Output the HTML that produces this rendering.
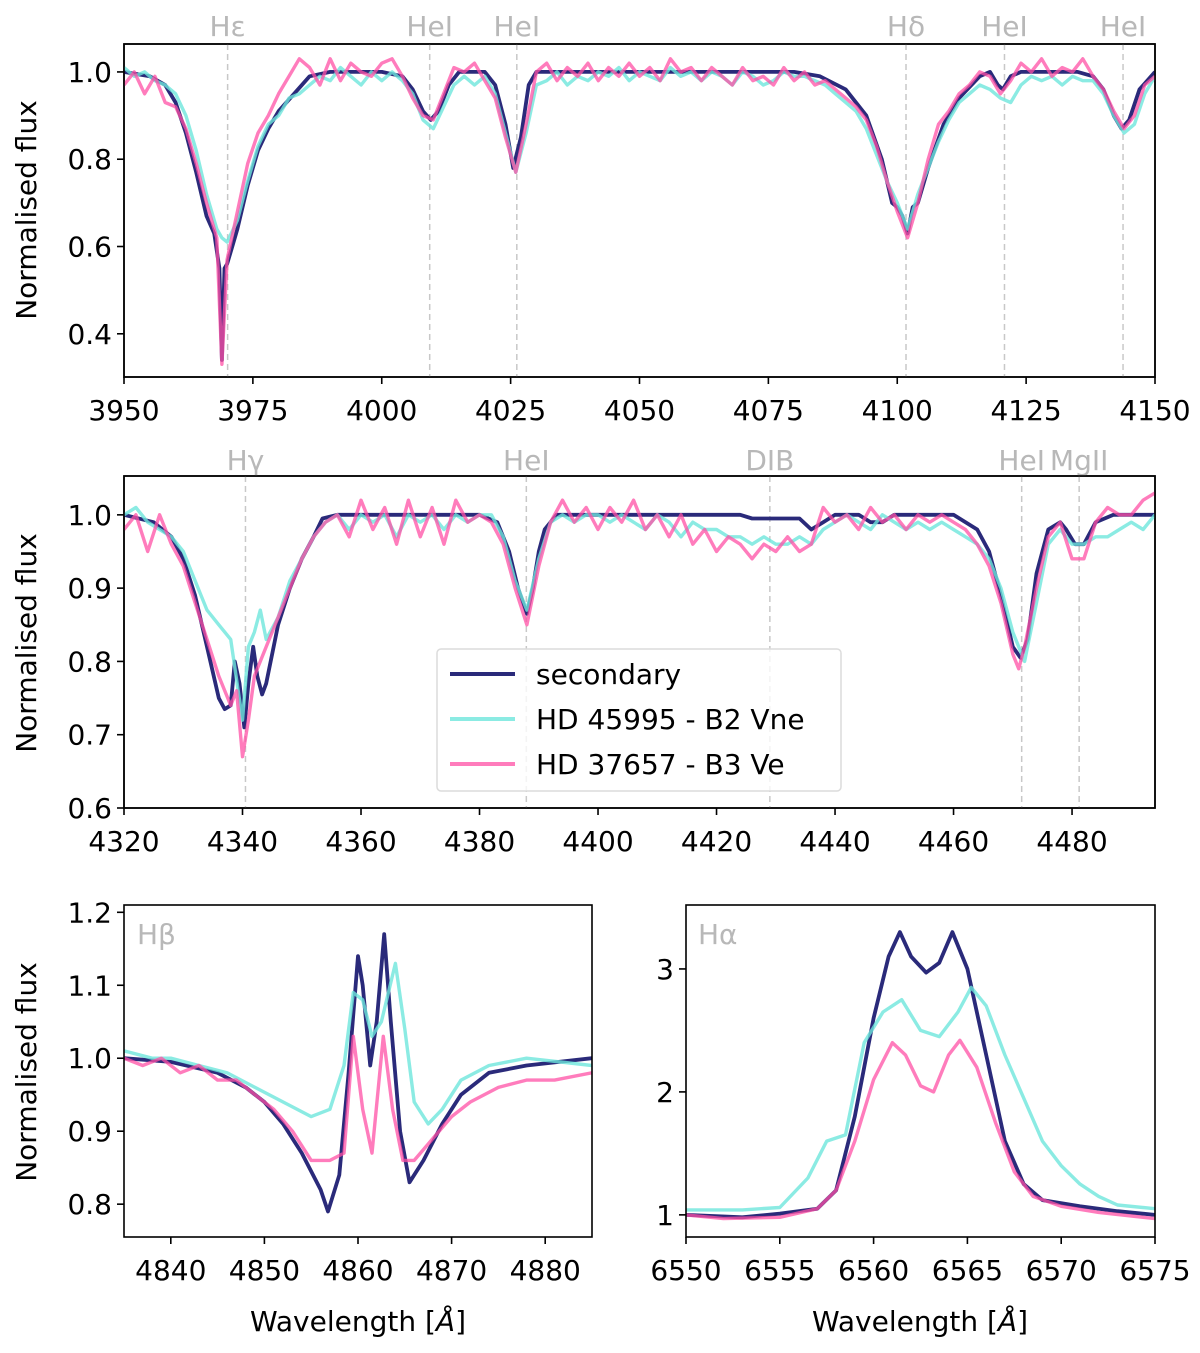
<!DOCTYPE html>
<html><head><meta charset="utf-8"><style>
html,body{margin:0;padding:0;background:#fff;}
svg{display:block;font-family:"DejaVu Sans","Liberation Sans",sans-serif;}
</style></head><body>
<svg id="fig" width="1200" height="1353" viewBox="0 0 1200 1353" xmlns="http://www.w3.org/2000/svg"></svg>
<script>
// ---------- DATA ----------
const sec1 = [[3950,1.0],[3955,0.99],[3958,0.97],[3960,0.93],[3962,0.86],[3964,0.77],[3966,0.67],[3967.5,0.63],[3968.5,0.55],[3969,0.34],[3969.5,0.55],[3970,0.56],[3971,0.6],[3972,0.64],[3974,0.74],[3976,0.82],[3978,0.87],[3980,0.91],[3983,0.95],[3986,0.99],[3990,1.0],[4000,1.0],[4004,0.99],[4006,0.96],[4008,0.91],[4009.5,0.89],[4011,0.91],[4013,0.97],[4015,1.0],[4020,1.0],[4022,0.97],[4024,0.88],[4025.5,0.78],[4027,0.85],[4028.5,0.97],[4030,1.0],[4080,1.0],[4085,0.99],[4090,0.96],[4094,0.9],[4097,0.8],[4099,0.70],[4100,0.69],[4101,0.67],[4102,0.63],[4103,0.69],[4104,0.70],[4106,0.78],[4109,0.88],[4112,0.94],[4116,0.99],[4118,1.0],[4119.5,0.97],[4120.5,0.96],[4122,0.99],[4124,1.0],[4135,1.0],[4138,0.99],[4140,0.96],[4142,0.90],[4143.5,0.87],[4145,0.89],[4147,0.96],[4150,1.0]];
const cyan1 = [[3950,1.01],[3952,0.99],[3954,1.00],[3956,0.98],[3958,0.97],[3960,0.95],[3962,0.90],[3964,0.82],[3966,0.72],[3968,0.64],[3969,0.62],[3970,0.61],[3972,0.66],[3974,0.75],[3976,0.83],[3978,0.88],[3980,0.90],[3982,0.94],[3984,0.95],[3986,0.97],[3988,0.99],[3990,0.98],[3992,1.01],[3994,0.99],[3996,0.97],[3998,1.00],[4000,0.98],[4002,1.00],[4004,0.98],[4006,0.95],[4008,0.89],[4010,0.87],[4012,0.92],[4014,0.97],[4016,0.99],[4018,0.97],[4020,0.99],[4022,0.95],[4024,0.86],[4026,0.77],[4028,0.86],[4030,0.97],[4032,0.98],[4034,1.00],[4036,0.97],[4038,0.99],[4040,0.98],[4042,1.00],[4044,0.99],[4046,1.01],[4048,0.98],[4050,1.00],[4052,0.99],[4054,0.98],[4056,1.01],[4058,0.99],[4060,1.00],[4062,0.98],[4064,1.00],[4066,0.99],[4068,0.97],[4070,1.00],[4072,0.99],[4074,0.97],[4076,0.98],[4078,1.00],[4080,0.99],[4082,0.99],[4084,0.98],[4086,0.97],[4088,0.95],[4090,0.93],[4092,0.91],[4094,0.87],[4096,0.81],[4098,0.75],[4100,0.70],[4102,0.64],[4104,0.72],[4106,0.78],[4108,0.84],[4110,0.89],[4112,0.93],[4114,0.95],[4116,0.97],[4118,0.96],[4120,0.94],[4122,0.93],[4124,0.97],[4126,0.99],[4128,0.98],[4130,0.99],[4132,0.97],[4134,0.99],[4136,0.98],[4138,0.98],[4140,0.95],[4142,0.90],[4144,0.86],[4146,0.88],[4148,0.95],[4150,0.99]];
const pink1 = [[3950,0.97],[3952,1.00],[3954,0.95],[3956,0.99],[3958,0.93],[3960,0.92],[3962,0.87],[3964,0.79],[3966,0.70],[3968,0.62],[3969,0.33],[3970,0.57],[3972,0.68],[3974,0.79],[3976,0.86],[3978,0.90],[3980,0.95],[3982,0.99],[3984,1.03],[3986,1.01],[3988,0.97],[3990,1.03],[3992,0.98],[3994,1.02],[3996,1.00],[3998,0.99],[4000,1.02],[4002,1.03],[4004,0.99],[4006,0.94],[4008,0.90],[4010,0.89],[4012,0.95],[4014,1.01],[4016,1.00],[4018,1.02],[4020,0.98],[4022,0.94],[4024,0.85],[4026,0.77],[4028,0.88],[4030,1.00],[4032,1.02],[4034,0.98],[4036,1.01],[4038,0.99],[4040,1.02],[4042,0.98],[4044,1.01],[4046,0.99],[4048,1.02],[4050,0.99],[4052,1.01],[4054,0.98],[4056,1.03],[4058,1.00],[4060,1.01],[4062,0.98],[4064,1.01],[4066,0.99],[4068,0.97],[4070,1.01],[4072,0.98],[4074,0.99],[4076,0.97],[4078,1.01],[4080,0.98],[4082,1.00],[4084,0.97],[4086,0.98],[4088,0.96],[4090,0.94],[4092,0.92],[4094,0.89],[4096,0.83],[4098,0.75],[4100,0.68],[4102,0.62],[4104,0.70],[4106,0.80],[4108,0.88],[4110,0.91],[4112,0.95],[4114,0.97],[4116,1.00],[4118,0.99],[4120,0.95],[4122,0.98],[4124,1.02],[4126,1.00],[4128,1.03],[4130,0.99],[4132,1.01],[4134,1.00],[4136,1.03],[4138,0.99],[4140,0.96],[4142,0.91],[4144,0.87],[4146,0.90],[4148,0.97],[4150,0.99]];

const sec2 = [[4320,1.0],[4325,0.99],[4328,0.97],[4330,0.94],[4332,0.89],[4334,0.82],[4336,0.75],[4337,0.735],[4338,0.74],[4338.7,0.80],[4339.5,0.77],[4340.3,0.71],[4341,0.77],[4341.8,0.82],[4342.5,0.78],[4343.3,0.755],[4344,0.77],[4346,0.85],[4348,0.90],[4350,0.94],[4352,0.97],[4353.5,0.995],[4356,1.0],[4380,1.0],[4383,0.99],[4385,0.95],[4386.5,0.90],[4388,0.865],[4389,0.90],[4390,0.95],[4391,0.98],[4393,1.0],[4420,1.0],[4424,1.0],[4426,0.995],[4434,0.995],[4436,0.98],[4438,0.99],[4440,1.0],[4444,1.0],[4446,0.99],[4448,0.99],[4450,1.0],[4460,1.0],[4464,0.98],[4466,0.95],[4468,0.89],[4470,0.82],[4471.3,0.805],[4472.5,0.83],[4474,0.92],[4476,0.98],[4478,0.99],[4479,0.98],[4480.5,0.96],[4482,0.96],[4484,0.99],[4487,1.0],[4494,1.0]];
const cyan2 = [[4320,1.00],[4322,1.01],[4324,0.99],[4326,0.98],[4328,0.97],[4330,0.95],[4332,0.91],[4334,0.87],[4336,0.85],[4338,0.83],[4340,0.72],[4341,0.82],[4342,0.84],[4343,0.87],[4344,0.83],[4346,0.86],[4348,0.91],[4350,0.94],[4352,0.97],[4354,0.99],[4356,1.00],[4358,0.98],[4360,1.00],[4362,0.99],[4364,1.00],[4366,0.97],[4368,1.00],[4370,0.99],[4372,1.00],[4374,0.98],[4376,1.00],[4378,0.99],[4380,1.00],[4382,1.00],[4384,0.97],[4386,0.91],[4388,0.87],[4390,0.94],[4392,0.99],[4394,1.00],[4396,0.99],[4398,1.00],[4400,1.00],[4402,0.99],[4404,1.00],[4406,0.99],[4408,0.98],[4410,1.00],[4412,0.99],[4414,0.97],[4416,0.99],[4418,0.98],[4420,0.98],[4422,0.97],[4424,0.97],[4426,0.96],[4428,0.97],[4430,0.96],[4432,0.96],[4434,0.97],[4436,0.96],[4438,0.98],[4440,0.99],[4442,1.00],[4444,0.99],[4446,0.98],[4448,1.00],[4450,0.99],[4452,0.98],[4454,0.99],[4456,0.98],[4458,0.99],[4460,0.98],[4462,0.97],[4464,0.96],[4466,0.94],[4468,0.90],[4470,0.84],[4472,0.80],[4474,0.88],[4476,0.96],[4478,0.98],[4480,0.96],[4482,0.96],[4484,0.97],[4486,0.97],[4488,0.98],[4490,0.99],[4492,0.98],[4494,1.00]];
const pink2 = [[4320,0.98],[4322,1.00],[4324,0.95],[4326,1.00],[4328,0.96],[4330,0.93],[4332,0.88],[4334,0.83],[4336,0.78],[4338,0.74],[4339,0.76],[4340,0.67],[4341,0.72],[4342,0.78],[4343,0.80],[4344,0.82],[4346,0.86],[4348,0.90],[4350,0.94],[4352,0.97],[4354,0.99],[4356,1.00],[4358,0.97],[4360,1.02],[4362,0.98],[4364,1.01],[4366,0.96],[4368,1.02],[4370,0.97],[4372,1.01],[4374,0.96],[4376,1.02],[4378,0.99],[4380,1.00],[4382,0.99],[4384,0.96],[4386,0.90],[4388,0.85],[4390,0.93],[4392,0.99],[4394,1.02],[4396,0.99],[4398,1.01],[4400,0.98],[4402,1.01],[4404,0.99],[4406,1.02],[4408,0.98],[4410,1.00],[4412,0.97],[4414,1.00],[4416,0.96],[4418,0.98],[4420,0.95],[4422,0.97],[4424,0.96],[4426,0.94],[4428,0.96],[4430,0.95],[4432,0.97],[4434,0.95],[4436,0.96],[4438,1.01],[4440,0.99],[4442,1.00],[4444,0.98],[4446,1.01],[4448,0.99],[4450,1.00],[4452,0.98],[4454,1.00],[4456,0.99],[4458,1.00],[4460,0.99],[4462,0.98],[4464,0.96],[4466,0.93],[4468,0.88],[4470,0.81],[4471,0.79],[4472,0.82],[4474,0.90],[4476,0.97],[4478,0.99],[4480,0.94],[4482,0.94],[4484,0.99],[4486,1.01],[4488,1.00],[4490,1.00],[4492,1.02],[4494,1.03]];

const sec3 = [[4835,1.0],[4840,0.995],[4845,0.98],[4848,0.96],[4850,0.94],[4852,0.91],[4854,0.87],[4856,0.82],[4856.8,0.79],[4858,0.84],[4859,0.98],[4860,1.14],[4860.5,1.10],[4861.3,0.99],[4862,1.05],[4862.8,1.17],[4863.5,1.05],[4864.5,0.90],[4865.5,0.83],[4867,0.86],[4869,0.91],[4871,0.95],[4874,0.98],[4878,0.99],[4885,1.0]];
const cyan3 = [[4835,1.01],[4838,1.0],[4840,1.0],[4843,0.99],[4846,0.98],[4849,0.96],[4852,0.94],[4855,0.92],[4857,0.93],[4858.5,0.99],[4859.5,1.09],[4860.5,1.08],[4861.5,1.03],[4862.5,1.05],[4864,1.13],[4865,1.04],[4866,0.94],[4867.5,0.91],[4869,0.93],[4871,0.97],[4874,0.99],[4878,1.0],[4885,0.99]];
const pink3 = [[4835,1.0],[4837,0.99],[4839,1.0],[4841,0.98],[4843,0.99],[4845,0.97],[4847,0.97],[4849,0.95],[4851,0.93],[4853,0.90],[4855,0.86],[4857,0.86],[4858.5,0.87],[4859.5,1.03],[4860.5,0.93],[4861.5,0.87],[4862.7,1.03],[4863.7,0.93],[4864.8,0.86],[4866,0.86],[4868,0.89],[4870,0.92],[4872,0.94],[4875,0.96],[4878,0.97],[4881,0.97],[4885,0.98]];

const sec4 = [[6550,1.0],[6553,0.98],[6555,1.01],[6557,1.05],[6558,1.2],[6559,1.8],[6560,2.6],[6560.8,3.1],[6561.4,3.3],[6562,3.1],[6562.8,2.97],[6563.5,3.05],[6564.2,3.3],[6565,3.0],[6566,2.3],[6567,1.6],[6568,1.25],[6569,1.12],[6571,1.07],[6573,1.03],[6575,1.0]];
const cyan4 = [[6550,1.04],[6553,1.04],[6555,1.06],[6556.5,1.3],[6557.5,1.6],[6558.5,1.65],[6559.5,2.4],[6560.5,2.65],[6561.5,2.75],[6562.5,2.5],[6563.5,2.45],[6564.5,2.65],[6565.2,2.85],[6566,2.7],[6567,2.3],[6568,1.95],[6569,1.6],[6570,1.4],[6571,1.25],[6572,1.15],[6573,1.08],[6575,1.05]];
const pink4 = [[6550,1.0],[6552,0.97],[6555,0.98],[6557,1.05],[6558,1.2],[6559,1.6],[6560,2.1],[6561,2.4],[6561.7,2.3],[6562.5,2.05],[6563.2,2.0],[6564,2.3],[6564.6,2.42],[6565.5,2.2],[6566.5,1.75],[6567.5,1.35],[6568.5,1.15],[6570,1.07],[6572,1.02],[6575,0.97]];

const xt1 = [3950,3975,4000,4025,4050,4075,4100,4125,4150];
const yt1 = [0.4,0.6,0.8,1.0];
const xt2 = [4320,4340,4360,4380,4400,4420,4440,4460,4480];
const yt2 = [0.6,0.7,0.8,0.9,1.0];
const xt3 = [4840,4850,4860,4870,4880];
const yt3 = [0.8,0.9,1.0,1.1,1.2];
const xt4 = [6550,6555,6560,6565,6570,6575];
const yt4 = [1,2,3];

const lines1 = [3970.1,4009.3,4026.2,4101.7,4120.8,4143.8];
const lineLab1 = ["Hε","HeI","HeI","Hδ","HeI","HeI"];
const lines2 = [4340.5,4387.9,4429,4471.5,4481.2];
const lineLab2 = ["Hγ","HeI","DIB","HeI","MgII"];

// ---------- DRAW ----------
const NS = "http://www.w3.org/2000/svg";
const svg = document.getElementById('fig');
function el(tag, attrs, parent){ const e=document.createElementNS(NS,tag); for(const k in attrs) e.setAttribute(k,attrs[k]); (parent||svg).appendChild(e); return e; }
const COL = {sec:"#2a2a7a", cyan:"rgba(110,230,220,0.8)", pink:"rgba(255,80,165,0.75)"};
const FS = 28;

function panel(name, box, xr, yr, xt, yt, ytFmt, series){
  const g = el('g',{});
  
  
  const sx = v => box.x0 + (v-xr[0])/(xr[1]-xr[0])*(box.x1-box.x0);
  const sy = v => box.y1 - (v-yr[0])/(yr[1]-yr[0])*(box.y1-box.y0);
  const cid = 'clip-'+name;
  const cp = el('clipPath',{id:cid},g);
  el('rect',{x:box.x0,y:box.y0,width:box.x1-box.x0,height:box.y1-box.y0},cp);
  const pl = el('g',{'clip-path':'url(#'+cid+')'},g);
  series.forEach(s=>{
    const p = el('polyline',{points:s.data.map(d=>sx(d[0]).toFixed(1)+','+sy(d[1]).toFixed(1)).join(' '),fill:'none',stroke:s.col,'stroke-width':s.w,'stroke-linejoin':'round'},pl);
    
    
  });
  const fr = el('rect',{x:box.x0,y:box.y0,width:box.x1-box.x0,height:box.y1-box.y0,fill:'none',stroke:'#000','stroke-width':1.6},g);
  
  
  xt.forEach(v=>{
    const x=sx(v);
    el('line',{x1:x,x2:x,y1:box.y1,y2:box.y1+7,stroke:'#000','stroke-width':1.6},g);
    const t=el('text',{x:x,y:box.y1+43,'text-anchor':'middle','font-size':FS,fill:'#000'},g);
    t.textContent=v;
    
    
  });
  yt.forEach(v=>{
    const y=sy(v);
    el('line',{x1:box.x0-7,x2:box.x0,y1:y,y2:y,stroke:'#000','stroke-width':1.6},g);
    const t=el('text',{x:box.x0-12,y:y+10,'text-anchor':'end','font-size':FS,fill:'#000'},g);
    t.textContent=ytFmt(v);
    
    
  });
  return {g,sx,sy};
}
function mk(sec,cy,pk){ return [{data:sec,col:COL.sec,w:3.8,name:'secondary-line'},{data:cy,col:COL.cyan,w:3.4,name:'hd45995-line'},{data:pk,col:COL.pink,w:3.4,name:'hd37657-line'}]; }
function markLines(P, box, xs, labs, ly){
  xs.forEach((v,i)=>{
    const x=P.sx(v);
    const l=el('line',{x1:x,x2:x,y1:box.y0,y2:box.y1,stroke:'#c8c8c8','stroke-width':1.5,'stroke-dasharray':'6,4'},P.g);
    
    
    const t=el('text',{x:x,y:ly,'text-anchor':'middle','font-size':FS,fill:'#b8b8b8'},P.g);
    t.textContent=labs[i];
    
    
  });
}
const f1=v=>v.toFixed(1), f0=v=>String(v);
const b1={x0:124,x1:1155,y0:44,y1:377};
const P1=panel('panel-top',b1,[3950,4150],[0.301,1.064],xt1,yt1,f1,[]);
markLines(P1,b1,lines1,lineLab1,36);
panel('panel-top-data',b1,[3950,4150],[0.301,1.064],[],[],f1,mk(sec1,cyan1,pink1));
const b2={x0:124,x1:1155,y0:476,y1:808};
const P2=panel('panel-middle',b2,[4320,4494],[0.6,1.053],xt2,yt2,f1,[]);
markLines(P2,b2,lines2,lineLab2,470);
panel('panel-middle-data',b2,[4320,4494],[0.6,1.053],[],[],f1,mk(sec2,cyan2,pink2));
const b3={x0:124,x1:592,y0:905,y1:1237};
const P3=panel('panel-hbeta',b3,[4835,4885],[0.755,1.21],xt3,yt3,f1,mk(sec3,cyan3,pink3));
const b4={x0:686,x1:1155,y0:905,y1:1237};
const P4=panel('panel-halpha',b4,[6550,6575],[0.82,3.52],xt4,yt4,f0,mk(sec4,cyan4,pink4));

function txt(x,y,s,attrs,name){ const t=el('text',Object.assign({x:x,y:y},attrs)); t.textContent=s;   return t; }
txt(137,944,'Hβ',{'font-size':FS,fill:'#b8b8b8'},'hbeta-label');
txt(698,944,'Hα',{'font-size':FS,fill:'#b8b8b8'},'halpha-label');
[[210,'y-axis-title-top'],[643,'y-axis-title-middle'],[1072,'y-axis-title-bottom']].forEach(a=>{
  txt(0,0,'Normalised flux',{'font-size':FS,fill:'#000','text-anchor':'middle',transform:'translate(36,'+a[0]+') rotate(-90)'},a[1]);
});
const xl1=el('text',{x:358,y:1331,'text-anchor':'middle','font-size':FS,fill:'#000'});
xl1.innerHTML='Wavelength [<tspan font-style="italic">Å</tspan>]';


const xl2=el('text',{x:920,y:1331,'text-anchor':'middle','font-size':FS,fill:'#000'});
xl2.innerHTML='Wavelength [<tspan font-style="italic">Å</tspan>]';



// legend
const lg=el('g',{});


el('rect',{x:437,y:649,width:404,height:142,rx:4,fill:'rgba(255,255,255,0.8)',stroke:'#dcdcdc','stroke-width':1.5},lg);
[['secondary',COL.sec,674],['HD 45995 - B2 Vne',COL.cyan,719],['HD 37657 - B3 Ve',COL.pink,764]].forEach(e=>{
  const l=el('line',{x1:450,x2:515,y1:e[2],y2:e[2],stroke:e[1],'stroke-width':4},lg);
  
  
  const t=el('text',{x:536,y:e[2]+10,'font-size':FS,fill:'#000'},lg);
  t.textContent=e[0];
  
  
});
</script>
</body></html>
